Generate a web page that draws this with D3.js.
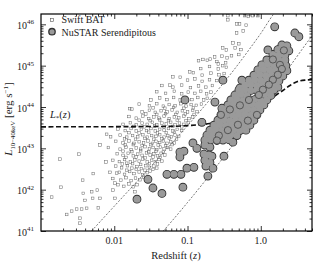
<!DOCTYPE html>
<html>
<head>
<meta charset="utf-8">
<title>Luminosity vs redshift</title>
<style>
  body { margin: 0; background: #fff; }
  svg text { font-family: "Liberation Serif", "DejaVu Serif", serif; fill: #222; }
</style>
</head>
<body>
<svg></svg>
<script src="https://d3js.org/d3.v7.min.js"></script>
<script>
// all points are [log10 z, log10 L]
var batPoints = [
  [-2.854,41.82],[-2.741,42.74],[-2.727,42.06],[-2.482,42.86],[-2.649,41.40],[-2.581,41.48],[-2.513,41.53],[-2.445,41.53],
  [-2.377,41.55],[-2.218,41.56],[-2.468,41.31],[-2.468,41.19],[-2.431,42.23],[-2.423,41.91],[-2.400,41.74],[-2.308,41.95],
  [-2.295,41.79],[-2.232,41.99],[-2.195,41.79],[-2.287,42.39],[-2.195,43.08],[-2.113,42.67],[-2.104,43.34],[-2.018,41.99],
  [-1.990,41.79],[-1.990,42.16],[-2.059,42.42],[-1.967,42.40],[-1.831,42.64],[-1.718,41.95],
  [-1.95,42.12],[-1.87,42.08],[-1.80,42.14],[-1.74,42.07],[-1.69,42.12],
  [-2.02,42.27],[-1.91,42.23],[-1.84,42.29],[-1.77,42.22],[-1.71,42.28],[-1.65,42.24],[-1.60,42.30],
  [-1.93,42.42],[-1.86,42.37],[-1.79,42.44],[-1.73,42.39],[-1.66,42.43],[-1.61,42.36],[-1.55,42.41],[-1.51,42.45],
  [-1.98,42.57],[-1.90,42.53],[-1.82,42.58],[-1.76,42.52],[-1.69,42.56],[-1.63,42.51],[-1.57,42.58],[-1.52,42.54],[-1.46,42.57],[-1.42,42.52],
  [-2.02,42.71],[-1.93,42.68],[-1.86,42.73],[-1.78,42.67],[-1.72,42.72],[-1.66,42.69],[-1.61,42.74],[-1.55,42.67],[-1.49,42.71],[-1.44,42.68],[-1.39,42.73],[-1.35,42.69],
  [-1.96,42.87],[-1.88,42.83],[-1.81,42.88],[-1.74,42.82],[-1.68,42.86],[-1.62,42.83],[-1.56,42.89],[-1.51,42.84],[-1.46,42.87],[-1.41,42.82],[-1.36,42.88],[-1.31,42.84],
  [-2.08,43.02],[-1.92,42.98],[-1.84,43.03],[-1.77,42.97],[-1.70,43.01],[-1.64,42.98],[-1.58,43.04],[-1.52,42.99],[-1.47,43.02],[-1.42,42.97],[-1.37,43.03],[-1.32,42.99],[-1.27,43.02],[-1.23,42.98],
  [-1.98,43.17],[-1.88,43.13],[-1.80,43.18],[-1.73,43.12],[-1.66,43.16],[-1.60,43.13],[-1.54,43.18],[-1.48,43.12],[-1.43,43.17],[-1.38,43.14],[-1.33,43.18],[-1.28,43.12],[-1.23,43.16],[-1.18,43.13],
  [-2.05,43.28],[-1.92,43.32],[-1.83,43.27],[-1.75,43.31],[-1.68,43.28],[-1.61,43.33],[-1.55,43.27],[-1.49,43.31],[-1.43,43.29],[-1.38,43.33],[-1.32,43.27],[-1.27,43.31],[-1.22,43.28],[-1.17,43.32],[-1.12,43.29],
  [-1.95,43.47],[-1.85,43.43],[-1.77,43.48],[-1.70,43.42],[-1.63,43.46],[-1.56,43.43],[-1.50,43.48],[-1.44,43.42],[-1.38,43.46],[-1.32,43.44],[-1.26,43.48],[-1.20,43.42],[-1.14,43.46],[-1.08,43.43],
  [-1.88,43.58],[-1.78,43.62],[-1.70,43.57],[-1.62,43.61],[-1.55,43.58],[-1.48,43.63],[-1.42,43.57],[-1.35,43.61],[-1.29,43.59],[-1.23,43.63],[-1.17,43.57],[-1.11,43.61],[-1.05,43.58],[-0.99,43.62],
  [-1.80,43.77],[-1.70,43.73],[-1.61,43.78],[-1.53,43.72],[-1.46,43.76],[-1.39,43.73],[-1.32,43.78],[-1.25,43.72],[-1.18,43.76],[-1.12,43.74],[-1.05,43.78],[-0.98,43.72],[-0.93,43.76],
  [-1.79,43.96],[-1.76,43.95],[-1.62,43.88],[-1.52,43.92],[-1.44,43.87],[-1.36,43.91],[-1.28,43.88],[-1.21,43.93],[-1.14,43.87],[-1.07,43.91],[-1.00,43.88],[-0.93,43.92],[-0.87,43.89],
  [-1.66,44.07],[-1.52,44.03],[-1.42,44.08],[-1.33,44.02],[-1.25,44.06],[-1.17,44.03],[-1.09,44.08],[-1.02,44.02],[-0.95,44.06],[-0.88,44.04],[-0.81,44.07],
  [-1.50,44.17],[-1.38,44.22],[-1.28,44.18],[-1.19,44.23],[-1.10,44.17],[-1.02,44.21],[-0.94,44.18],[-0.86,44.23],[-0.78,44.17],[-0.73,44.21],
  [-1.42,44.37],[-1.30,44.33],[-1.18,44.38],[-1.08,44.32],[-0.99,44.36],[-0.90,44.33],[-0.82,44.38],[-0.74,44.32],[-0.68,44.36],
  [-1.35,44.52],[-1.24,44.53],[-1.20,44.48],[-1.08,44.53],[-0.96,44.47],[-0.85,44.51],[-0.75,44.48],[-0.66,44.52],
  [-1.20,44.73],[-1.10,44.72],[-1.00,44.65],[-0.97,44.85],[-0.90,44.68],[-0.80,44.62],[-0.70,44.66],[-0.60,44.64],
  [-0.92,44.83],[-0.80,44.77],[-0.68,44.82],[-0.57,44.78],[-0.50,44.81],
  [-0.82,44.93],[-0.70,44.98],[-0.58,44.92],[-0.47,44.96],
  [-0.85,45.12],[-0.79,45.15],[-0.73,45.13],[-0.69,45.16],[-0.60,45.10],[-0.48,45.07],
  [-0.63,45.21],[-0.58,45.04],[-0.52,45.00],[-0.46,45.19],[-0.53,45.23],[-0.40,45.24],[-0.30,45.27],
  [-0.52,45.43],[-0.47,45.38],[-0.35,45.43],[-0.27,45.39],
  [-0.38,45.55],[-0.30,45.53],[-0.33,45.79],[-0.24,45.84],
  [-0.33,46.01],[-0.29,46.01],[-0.20,45.98],[-0.45,46.11],[-0.45,46.21],[-0.22,46.21],[-0.17,46.19],[-0.11,46.21],[-0.04,46.21],
  // denser core
  [-1.83,42.47],[-1.70,42.49],[-1.58,42.47],[-1.47,42.49],
  [-1.89,42.62],[-1.75,42.63],[-1.64,42.61],[-1.52,42.63],[-1.41,42.62],
  [-1.84,42.78],[-1.70,42.79],[-1.58,42.77],[-1.47,42.79],[-1.37,42.78],
  [-1.88,42.93],[-1.76,42.92],[-1.64,42.94],[-1.53,42.92],[-1.43,42.93],[-1.33,42.91],
  [-1.85,43.08],[-1.74,43.09],[-1.62,43.07],[-1.50,43.09],[-1.40,43.08],[-1.30,43.07],[-1.21,43.09],
  [-1.86,43.23],[-1.71,43.22],[-1.58,43.24],[-1.46,43.22],[-1.35,43.23],[-1.25,43.24],[-1.15,43.22],
  [-1.80,43.38],[-1.66,43.37],[-1.53,43.39],[-1.41,43.37],[-1.29,43.38],[-1.18,43.39],
  [-1.73,43.53],[-1.59,43.52],[-1.45,43.54],[-1.32,43.52],[-1.20,43.53],[-1.08,43.52],
  [-1.66,43.68],[-1.51,43.67],[-1.38,43.69],[-1.26,43.67],[-1.14,43.68],[-1.02,43.67],
  [-1.57,43.83],[-1.42,43.82],[-1.30,43.84],[-1.16,43.82],[-1.03,43.83],[-0.91,43.82],
  [-1.47,43.98],[-1.31,43.97],[-1.19,43.99],[-1.05,43.97],[-0.92,43.98]
];

var nustarPoints = [
  // scattered sources
  [0.19,45.94],[0.465,45.79],[0.52,45.70],[-0.517,44.65],[-0.258,44.65],[-0.285,44.46],[-1.035,44.17],
  [0.233,44.48],[-0.626,44.12],[-0.531,43.97],[-0.804,43.63],
  [-0.381,43.15],[-0.503,42.81],[-0.667,42.81],[-0.653,42.52],[-0.722,42.33],
  [-0.763,43.08],[-0.694,43.03],[-0.776,42.86],[-0.708,42.84],[-0.763,42.71],[-0.694,42.66],[-0.749,42.57],
  [-0.926,43.13],[-0.872,43.00],[-1.104,42.91],[-1.049,42.93],[-1.104,42.79],[-1.008,42.52],[-0.913,42.54],
  [-1.281,42.37],[-1.186,42.37],[-1.09,42.37],[-1.063,42.06],[-1.349,41.91],[-1.69,41.77],[-1.54,42.25],[-1.472,42.04],
  // main cloud
  [0.288,45.50],[0.356,45.48],
  [0.097,45.38],[0.233,45.39],[0.315,45.37],[0.383,45.36],
  [0.165,45.27],[0.247,45.25],[0.329,45.26],
  [0.083,45.14],[0.165,45.15],[0.247,45.13],[0.329,45.14],
  [0.015,45.02],[0.097,45.03],[0.179,45.01],[0.261,45.02],[0.342,45.00],
  [-0.040,44.90],[0.042,44.91],[0.124,44.89],[0.206,44.90],[0.288,44.92],[0.356,44.88],
  [-0.094,44.77],[-0.012,44.78],[0.070,44.76],[0.151,44.77],[0.233,44.78],[0.301,44.75],
  [-0.162,44.65],[-0.081,44.66],[0.001,44.64],[0.083,44.65],[0.165,44.66],[0.247,44.63],
  [-0.217,44.53],[-0.135,44.54],[-0.053,44.52],[0.029,44.53],[0.110,44.54],[0.192,44.51],
  [-0.299,44.41],[-0.217,44.42],[-0.135,44.40],[-0.053,44.41],[0.029,44.42],[0.110,44.40],[0.179,44.41],
  [-0.353,44.29],[-0.271,44.30],[-0.190,44.28],[-0.026,44.29],[0.056,44.30],[0.138,44.28],
  [-0.408,44.17],[-0.326,44.18],[-0.244,44.16],[-0.162,44.17],[-0.081,44.18],[0.001,44.16],[0.083,44.17],
  [-0.449,44.05],[-0.367,44.06],[-0.285,44.04],[-0.203,44.05],[-0.121,44.06],[-0.040,44.04],[0.042,44.05],
  [-0.503,43.93],[-0.422,43.94],[-0.340,43.92],[-0.258,43.93],[-0.176,43.94],[-0.094,43.92],[-0.012,43.93],
  [-0.544,43.81],[-0.462,43.82],[-0.381,43.80],[-0.299,43.81],[-0.217,43.82],[-0.135,43.80],[-0.053,43.81],
  [-0.585,43.68],[-0.503,43.69],[-0.422,43.67],[-0.340,43.68],[-0.258,43.69],[-0.176,43.67],[-0.094,43.68],
  [-0.640,43.56],[-0.558,43.57],[-0.476,43.55],[-0.394,43.56],[-0.312,43.57],[-0.231,43.55],[-0.149,43.56],
  [-0.694,43.44],[-0.613,43.45],[-0.531,43.43],[-0.449,43.44],[-0.367,43.45],[-0.285,43.43],[-0.203,43.44],
  [-0.735,43.32],[-0.653,43.33],[-0.572,43.31],[-0.490,43.32],[-0.408,43.33],[-0.326,43.31],
  [-0.763,43.20],[-0.681,43.21],[-0.599,43.19],[-0.517,43.20],[-0.435,43.21]
];

// flux limit curves and L*(z): [z, log10 L]
var fluxLimitBright = [[0.0049,41.0],[0.01,41.6],[0.02,42.18],[0.05,42.95],[0.1,43.55],[0.2,44.17],[0.3,44.55],[0.5,45.05],[0.7,45.40],[1.0,45.78],[1.5,46.25],[2.0,46.5]];
var fluxLimitFaint = [[0.0467,41.0],[0.05,41.06],[0.1,41.69],[0.2,42.35],[0.3,42.75],[0.5,43.27],[0.7,43.62],[1.0,44.01],[1.5,44.45],[2.0,44.75],[3.0,45.18],[4.0,45.49],[5.0,45.72]];
var lStar = [[0.001,43.52],[0.05,43.53],[0.1,43.55],[0.2,43.6],[0.5,43.8],[1.0,44.05],[1.5,44.25],[2.0,44.4],[2.5,44.52],[3.0,44.6],[4.0,44.65],[5.0,44.66]];

var xTicks = [0.01, 0.1, 1.0];
var xTickLabels = ["0.01", "0.1", "1.0"];
var yTickExps = [41, 42, 43, 44, 45, 46];

var width = 319, height = 263;
var margin = {top: 14, right: 7, bottom: 32, left: 41};
var w = width - margin.left - margin.right;
var h = height - margin.top - margin.bottom;

var svg = d3.select("svg").attr("width", width).attr("height", height);
var g = svg.append("g").attr("transform", "translate(" + margin.left + "," + margin.top + ")");

var x = d3.scaleLog().domain([0.001, 5]).range([0, w]);
var y = d3.scaleLog().domain([1e41, Math.pow(10, 46.25)]).range([h, 0]);

svg.append("defs").append("clipPath").attr("id", "plotclip")
  .append("rect").attr("width", w).attr("height", h);

var plot = g.append("g").attr("clip-path", "url(#plotclip)");

// Swift BAT open squares
plot.selectAll("rect.bat").data(batPoints).enter().append("rect")
  .attr("class", "bat")
  .attr("x", function(d) { return x(Math.pow(10, d[0])) - 1.3; })
  .attr("y", function(d) { return y(Math.pow(10, d[1])) - 1.3; })
  .attr("width", 2.6).attr("height", 2.6)
  .attr("fill", "none").attr("stroke", "#666").attr("stroke-width", 0.5);

// flux limit lines
var line = d3.line()
  .x(function(d) { return x(d[0]); })
  .y(function(d) { return y(Math.pow(10, d[1])); })
  .curve(d3.curveMonotoneX);

[fluxLimitBright, fluxLimitFaint].forEach(function(c) {
  plot.append("path").datum(c).attr("d", line)
    .attr("fill", "none").attr("stroke", "#555").attr("stroke-width", 0.8)
    .attr("stroke-dasharray", "2,1.6");
});

plot.append("path").datum(lStar).attr("d", line)
  .attr("fill", "none").attr("stroke", "#111").attr("stroke-width", 1.6)
  .attr("stroke-dasharray", "5,2.5");

// NuSTAR circles: outlines first, fills on top so overlaps merge,
// then a few full markers again for some inner edges
function cx(d) { return x(Math.pow(10, d[0])); }
function cy(d) { return y(Math.pow(10, d[1])); }
plot.selectAll("circle.nuo").data(nustarPoints).enter().append("circle")
  .attr("class", "nuo").attr("cx", cx).attr("cy", cy)
  .attr("r", 3.8).attr("fill", "#333").attr("stroke", "#333").attr("stroke-width", 1.2);
plot.selectAll("circle.nuf").data(nustarPoints).enter().append("circle")
  .attr("class", "nuf").attr("cx", cx).attr("cy", cy)
  .attr("r", 3.5).attr("fill", "#9a9a9a");
plot.selectAll("circle.nue").data(nustarPoints.filter(function(d, i) { return i > 40 && i % 6 === 0; }))
  .enter().append("circle")
  .attr("class", "nue").attr("cx", cx).attr("cy", cy)
  .attr("r", 3.6).attr("fill", "#9a9a9a").attr("stroke", "#444").attr("stroke-width", 0.8);

// ticks (inward, all four sides)
var xMinor = [];
[0.001, 0.01, 0.1, 1].forEach(function(b) {
  for (var k = 2; k <= 9; k++) { if (b * k <= 5) xMinor.push(b * k); }
});
var yMinor = [];
yTickExps.forEach(function(e) {
  for (var k = 2; k <= 9; k++) { if (k * Math.pow(10, e) < Math.pow(10, 46.25)) yMinor.push(k * Math.pow(10, e)); }
});
var yMajor = yTickExps.map(function(e) { return Math.pow(10, e); });

function ticks(axis, vals, size, tr) {
  var a = g.append("g").attr("transform", tr)
    .call(axis.tickValues(vals).tickSize(size).tickFormat(""));
  a.select(".domain").remove();
  a.selectAll("line").attr("stroke", "#000").attr("stroke-width", 0.8);
}
ticks(d3.axisBottom(x), xTicks, -5, "translate(0," + h + ")");
ticks(d3.axisBottom(x), xMinor, -2.5, "translate(0," + h + ")");
ticks(d3.axisTop(x), xTicks, -5, "translate(0,0)");
ticks(d3.axisTop(x), xMinor, -2.5, "translate(0,0)");
ticks(d3.axisLeft(y), yMajor, -5, "translate(0,0)");
ticks(d3.axisLeft(y), yMinor, -2.5, "translate(0,0)");
ticks(d3.axisRight(y), yMajor, -5, "translate(" + w + ",0)");
ticks(d3.axisRight(y), yMinor, -2.5, "translate(" + w + ",0)");

// frame
g.append("rect").attr("width", w).attr("height", h)
  .attr("fill", "none").attr("stroke", "#000").attr("stroke-width", 1.2);

// tick labels
g.selectAll("text.xl").data(xTicks).enter().append("text")
  .attr("x", function(d) { return x(d); })
  .attr("y", h + 12.5)
  .attr("text-anchor", "middle").attr("font-size", 10)
  .text(function(d, i) { return xTickLabels[i]; });

var yl = g.selectAll("text.yl").data(yTickExps).enter().append("text")
  .attr("x", -7).attr("y", function(d) { return y(Math.pow(10, d)) + 4.5; })
  .attr("text-anchor", "end").attr("font-size", 10);
yl.append("tspan").text("10");
yl.append("tspan").attr("font-size", 7).attr("dy", -4.5).text(function(d) { return d; });

// axis titles
var xt = svg.append("text").attr("x", 176).attr("y", 259).attr("text-anchor", "middle").attr("font-size", 10.5);
xt.append("tspan").text("Redshift (");
xt.append("tspan").attr("font-style", "italic").text("z");
xt.append("tspan").text(")");

var yt = svg.append("text").attr("transform", "translate(12,119) rotate(-90)")
  .attr("text-anchor", "middle").attr("font-size", 11);
yt.append("tspan").attr("font-style", "italic").text("L");
yt.append("tspan").attr("font-size", 6.8).attr("dy", 2.5).text("10\u221240keV");
yt.append("tspan").attr("dy", -2.5).text(" [erg s");
yt.append("tspan").attr("font-size", 7).attr("dy", -4).text("\u22121");
yt.append("tspan").attr("dy", 4).text("]");

// L*(z) label
var ls = g.append("text").attr("x", 9).attr("y", y(Math.pow(10, 43.74)))
  .attr("font-size", 10.5);
ls.append("tspan").attr("font-style", "italic").text("L");
ls.append("tspan").attr("font-size", 7).attr("dy", 2.5).text("*");
ls.append("tspan").attr("dy", -2.5).text("(");
ls.append("tspan").attr("font-style", "italic").text("z");
ls.append("tspan").text(")");

// legend
var leg = g.append("g").attr("transform", "translate(11,4)");
leg.append("rect").attr("x", -1.5).attr("y", 0.5).attr("width", 3).attr("height", 3)
  .attr("fill", "none").attr("stroke", "#555").attr("stroke-width", 0.6);
leg.append("text").attr("x", 9.5).attr("y", 4.5).attr("font-size", 10).text("Swift BAT");
leg.append("circle").attr("cx", 0).attr("cy", 13.7).attr("r", 3.2)
  .attr("fill", "#9a9a9a").attr("stroke", "#333").attr("stroke-width", 1.3);
leg.append("text").attr("x", 9.5).attr("y", 17.5).attr("font-size", 10).text("NuSTAR Serendipitous");
</script>
</body>
</html>
